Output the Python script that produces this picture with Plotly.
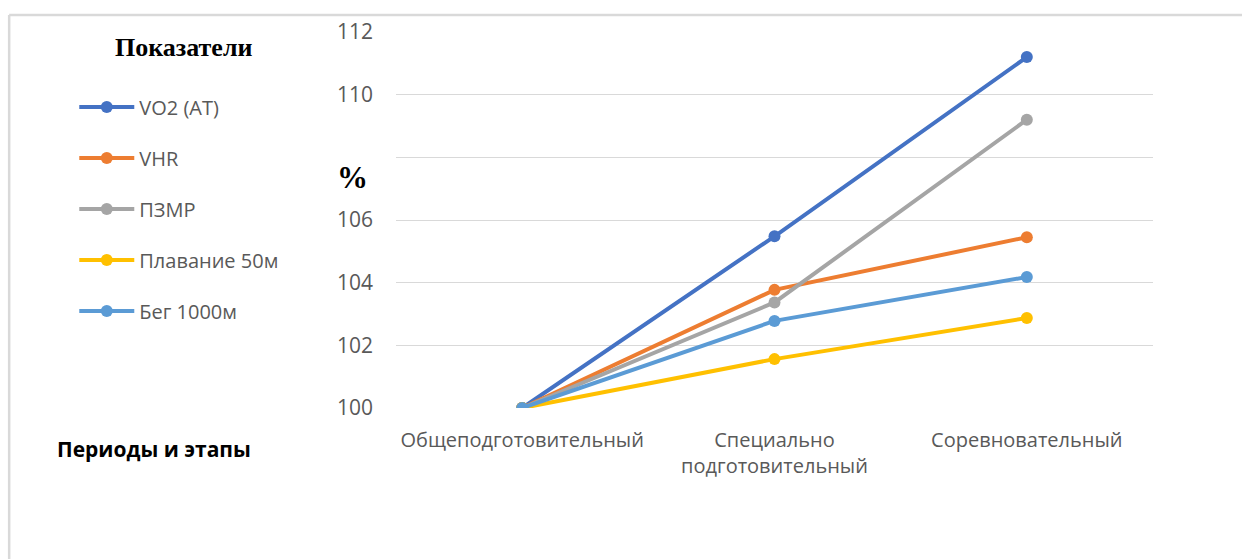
import plotly.graph_objects as go

categories = ["Общеподготовительный", "Специально<br>подготовительный", "Соревновательный"]
series_names = ["VO2 (AT)", "VHR", "ПЗМР", "Плавание 50м", "Бег 1000м"]
vo2 = [100, 105.48, 111.2]
vhr = [100, 103.77, 105.45]
pzmr = [100, 103.37, 109.2]
swim = [100, 101.56, 102.87]
run = [100, 102.78, 104.18]
colors = ["#4472C4", "#ED7D31", "#A5A5A5", "#FFC000", "#5B9BD5"]
ytick_vals = [100, 102, 104, 106, 108, 110, 112]
ytick_text = ["100", "102", "104", "106", "", "110", "112"]

fig = go.Figure()
for name, vals, col in zip(series_names, [vo2, vhr, pzmr, swim, run], colors):
    fig.add_trace(go.Scatter(
        x=categories, y=vals, name=name, mode="lines+markers",
        line=dict(color=col, width=4), marker=dict(color=col, size=12),
        legendgroup=name,
    ))

fig.update_layout(
    width=1242, height=559,
    margin=dict(l=396, r=89, t=32, b=151),
    paper_bgcolor="white", plot_bgcolor="white",
    font=dict(family="Open Sans, sans-serif", color="#595959"),
    showlegend=True,
    legend=dict(
        x=-0.425, y=0.8526, xanchor="left", yanchor="top",
        font=dict(size=20, color="#595959"),
        tracegroupgap=22, itemwidth=55,
        bgcolor="rgba(0,0,0,0)",
    ),
    xaxis=dict(range=[-0.5, 2.5], showgrid=False, showline=False, zeroline=False, ticks="",
               ticklabelstandoff=18,
               tickfont=dict(size=20, color="#595959")),
    yaxis=dict(range=[100, 112], tickvals=ytick_vals, ticktext=ytick_text,
               showgrid=True, gridcolor="#D9D9D9", gridwidth=1.3,
               zeroline=False, showline=False, ticks="",
               ticklabelstandoff=22,
               tickfont=dict(size=21, color="#595959")),
    annotations=[
        dict(text="<b>Показатели</b>", xref="paper", yref="paper", x=-0.281, y=0.96,
             xanchor="center", yanchor="middle",
             showarrow=False, font=dict(family="Liberation Serif, serif", size=26, color="black")),
        dict(text="<b>%</b>", xref="paper", yref="paper", x=-0.058, y=0.612,
             xanchor="center", yanchor="middle",
             showarrow=False, font=dict(family="Liberation Serif, serif", size=31, color="black")),
        dict(text="<b>Периоды и этапы</b>", xref="paper", yref="paper", x=-0.4505, y=-0.109,
             xanchor="left", yanchor="middle",
             showarrow=False, font=dict(family="Open Sans, sans-serif", size=21, color="black")),
    ],
    shapes=[
        dict(type="line", xref="paper", yref="paper", x0=-0.511, x1=1.2, y0=1.0452, y1=1.0452,
             line=dict(color="#D9D9D9", width=2.5)),
        dict(type="line", xref="paper", yref="paper", x0=-0.511, x1=-0.511, y0=1.0452, y1=-0.5,
             line=dict(color="#D9D9D9", width=2.5)),
    ],
)

fig.write_html("out.html")
